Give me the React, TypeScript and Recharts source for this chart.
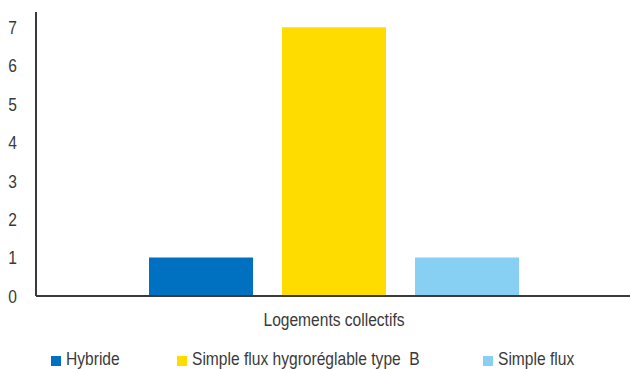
import { BarChart, Bar, XAxis, YAxis, Legend } from "recharts";

const categories = ["Logements collectifs"];
const hybride = [1];
const simpleFluxHygroB = [7];
const simpleFlux = [1];
const yTicks = [0, 1, 2, 3, 4, 5, 6, 7];

const series = [
  { key: "hybride", name: "Hybride", color: "#0070C0", width: 126 },
  { key: "hygroB", name: "Simple flux hygroréglable type  B", color: "#FFDC00", width: 306 },
  { key: "simple", name: "Simple flux", color: "#88CFF4", width: 120 },
];

const data = categories.map((c, i) => ({
  category: c,
  hybride: hybride[i],
  hygroB: simpleFluxHygroB[i],
  simple: simpleFlux[i],
}));

// no narrow font installed, so squeeze Liberation Sans horizontally
const font = "'Liberation Sans', Arial, sans-serif";
const squeeze = 0.82;
const fontSize = 19;
const textColor = "#3a3a3a";
const axisColor = "#3a3a3a";

function narrowTick(dy: string) {
  return function Tick(props: any) {
    const { x, y, payload, textAnchor } = props;
    return (
      <g transform={`translate(${x},${y})`}>
        <text
          transform={`scale(${squeeze},1)`}
          textAnchor={textAnchor}
          dy={dy}
          fontFamily={font}
          fontSize={fontSize}
          fill={textColor}
        >
          {payload.value}
        </text>
      </g>
    );
  };
}

const XTick = narrowTick("0.71em");
const YTick = narrowTick("0.355em");

function LegendRow() {
  return (
    <div style={{ display: "flex", alignItems: "flex-end", height: 33, paddingLeft: 51, boxSizing: "border-box", position: "relative", top: 1 }}>
      {series.map((s) => (
        <div key={s.key} style={{ width: s.width, flexShrink: 0, display: "flex", alignItems: "center", fontFamily: font, fontSize, color: textColor, lineHeight: "22px", whiteSpace: "pre" }}>
          <span style={{ display: "inline-block", flexShrink: 0, width: 10, height: 10, background: s.color, marginRight: 5, marginTop: 3 }} />
          <span style={{ display: "inline-block", transform: `scaleX(${squeeze})`, transformOrigin: "left center" }}>{s.name}</span>
        </div>
      ))}
    </div>
  );
}

export default function App() {
  return (
    <div style={{ position: "absolute", left: 0, top: 0, width: 630, height: 369, background: "#fff", overflow: "hidden" }}>
      <BarChart width={632} height={369} data={data} margin={{ top: 12, right: 0, bottom: 0, left: 0 }} barSize={104} barGap={29}>
        <XAxis
          dataKey="category"
          height={40}
          tickLine={false}
          tickSize={0}
          tickMargin={17}
          axisLine={{ stroke: axisColor, strokeWidth: 2 }}
          tick={<XTick />}
        />
        <YAxis
          width={36}
          domain={[0, 7.4]}
          ticks={yTicks}
          interval={0}
          tickLine={false}
          tickSize={0}
          tickMargin={19}
          axisLine={{ stroke: axisColor, strokeWidth: 2 }}
          tick={<YTick />}
        />
        <Legend verticalAlign="bottom" content={() => <LegendRow />} />
        {series.map((s) => (
          <Bar key={s.key} dataKey={s.key} name={s.name} fill={s.color} isAnimationActive={false} />
        ))}
      </BarChart>
    </div>
  );
}
